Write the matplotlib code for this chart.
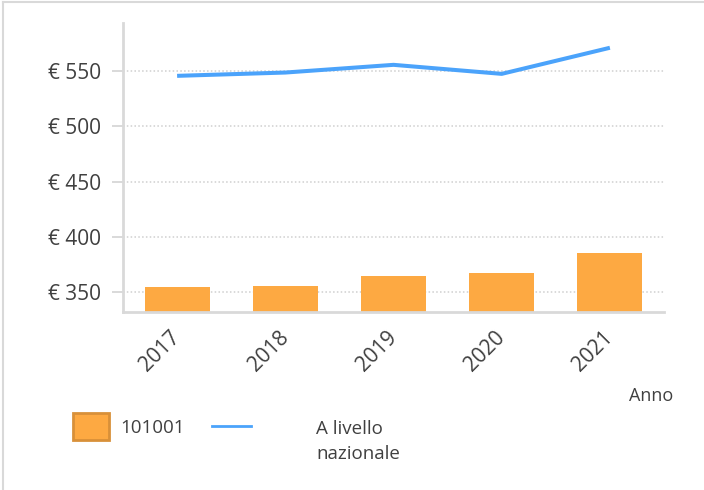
"""Importo medio per anno: comune 101001 vs livello nazionale."""
import matplotlib

matplotlib.use("Agg")
import matplotlib.pyplot as plt
from matplotlib.lines import Line2D

years = ["2017", "2018", "2019", "2020", "2021"]
local_values = [354.3, 355.2, 364.3, 367.0, 385.2]
national_values = [546.0, 549.0, 556.0, 547.8, 571.5]
y_ticks = [350, 400, 450, 500, 550]
y_tick_labels = ["€ 350", "€ 400", "€ 450", "€ 500", "€ 550"]

_BAR_COLOR = "#FDA942"
_BAR_EDGE = "#D89039"
_LINE_COLOR = "#4BA3FB"
_AXIS_GREY = "#D9D9D9"
_TEXT = "#404040"

plt.rcParams["font.family"] = ["Open Sans", "DejaVu Sans"]

fig = plt.figure(figsize=(7.04, 4.90), dpi=100)
W, H = 704, 490
ax = fig.add_axes([123 / W, 1 - 312 / H, (664 - 123) / W, (312 - 23) / H])

x = range(len(years))
base = 331.5
bars = ax.bar(
    x, [v - base for v in local_values], bottom=base, width=0.6,
    color=_BAR_COLOR, linewidth=0, label="101001", zorder=2,
)
(line,) = ax.plot(
    x, national_values, color=_LINE_COLOR, linewidth=2.9,
    solid_capstyle="butt", label="A livello\nnazionale", zorder=3,
)

ax.set_xlim(-0.5, 4.5)
ax.set_ylim(base, 594)
ax.set_yticks(y_ticks)
ax.set_yticklabels(y_tick_labels)
ax.set_xticks(list(x))
ax.set_xticklabels(years, rotation=45, ha="right", va="center",
                   rotation_mode="anchor")

ax.yaxis.grid(True, color="#CFCFCF", linestyle=(0, (1, 1.5)), linewidth=1.1)
ax.set_axisbelow(True)
for side in ("top", "right"):
    ax.spines[side].set_visible(False)
for side in ("left", "bottom"):
    ax.spines[side].set_color(_AXIS_GREY)
    ax.spines[side].set_linewidth(2)
ax.tick_params(axis="y", length=8, width=1.4, color=_AXIS_GREY, pad=8,
               labelsize=15, labelcolor=_TEXT)
ax.tick_params(axis="x", length=0, pad=16, labelsize=15, labelcolor=_TEXT)

fig.text(673 / W, 1 - 396 / H, "Anno", ha="right", va="center",
         fontsize=13, color=_TEXT)

# legend: bar entry
fs = 13.5
leg1 = fig.legend(
    handles=[bars], labels=["101001"], loc="upper left",
    bbox_to_anchor=(73 / W, 1 - 413 / H), frameon=False, fontsize=fs,
    handlelength=1.92, handleheight=1.85, handletextpad=0.62, borderpad=0,
    borderaxespad=0, labelcolor=_TEXT,
)
for h in leg1.legend_handles:
    h.set_edgecolor(_BAR_EDGE)
    h.set_linewidth(2)

# legend: line entry, label wraps on two lines next to a short line sample
fig.add_artist(Line2D([212 / W, 251 / W], [1 - 426 / H, 1 - 426 / H],
                      color=_LINE_COLOR, linewidth=2))
fig.text(316 / W, 1 - 441.5 / H, line.get_label(), ha="left", va="center",
         fontsize=fs, color=_TEXT, linespacing=1.55)

# outer frame: only top and left edges visible
fig.add_artist(Line2D([3 / W, 3 / W], [0, 1 - 2 / H], color=_AXIS_GREY, linewidth=1.5))
fig.add_artist(Line2D([3 / W, 1], [1 - 2 / H, 1 - 2 / H], color=_AXIS_GREY, linewidth=1.5))

fig.savefig("out.png", dpi=100)
